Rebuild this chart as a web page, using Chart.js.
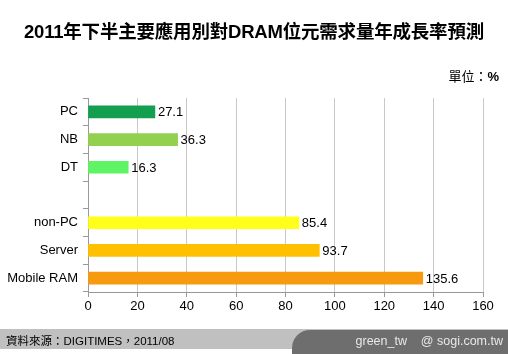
<!DOCTYPE html>
<html>
<head>
<meta charset="utf-8">
<script src="https://cdn.jsdelivr.net/npm/chart.js@4"></script>
<style>
    body { margin: 0; background: #fff; }
    #wrap { position: relative; width: 508px; height: 354px; overflow: hidden; font-family: "Liberation Sans", "Noto Sans CJK TC", sans-serif; }
    #title { position: absolute; left: 0; top: 17px; width: 508px; text-align: center; font-size: 18.5px; font-weight: bold; color: #000; letter-spacing: -0.2px; }
    #unit { position: absolute; right: 9px; top: 66px; font-size: 13px; color: #000; }
    #unit b { font-weight: bold; }
    #chart { position: absolute; left: 0; top: 0; }
    #footer { position: absolute; left: 0; top: 329px; width: 508px; height: 20px; background: #c0c0c0; }
    #footer .src { position: absolute; left: 6px; top: 3px; font-size: 11.5px; color: #000; }
    #footer .dark { position: absolute; left: 292px; top: 1px; width: 216px; height: 25px; background: #6e6e6e; border-top-left-radius: 18px; }
    #footer .who { position: absolute; right: 5px; top: 4px; font-size: 12.5px; color: #e8e8e8; white-space: pre; }
</style>
</head>
<body>
<div id="wrap">
    <canvas id="chart" width="508" height="354"></canvas>
    <div id="title">2011年下半主要應用別對DRAM位元需求量年成長率預測</div>
    <div id="unit">單位：<b>%</b></div>
    <div id="footer">
        <div class="src">資料來源：DIGITIMES，2011/08</div>
        <div class="dark"><div class="who">green_tw    @ sogi.com.tw</div></div>
    </div>
</div>
<script>
// categories, top to bottom (empty one is the gap between groups)
var categories = ['PC', 'NB', 'DT', '', 'non-PC', 'Server', 'Mobile RAM'];
var growth = [27.1, 36.3, 16.3, null, 85.4, 93.7, 135.6];
var barColors = ['#12a050', '#92d050', '#5ff466', 'rgba(0,0,0,0)', '#ffff1a', '#ffc000', '#f79a10'];
var xTicks = [0, 20, 40, 60, 80, 100, 120, 140, 160];

var font = "'Liberation Sans', 'Noto Sans CJK TC', sans-serif";

var valueLabels = {
    id: 'valueLabels',
    afterDatasetsDraw: function(chart) {
        var ctx = chart.ctx;
        var meta = chart.getDatasetMeta(0);
        ctx.save();
        ctx.font = '13px ' + font;
        ctx.fillStyle = '#000';
        ctx.textAlign = 'left';
        ctx.textBaseline = 'middle';
        meta.data.forEach(function(bar, i) {
            if (growth[i] === null) return;
            ctx.fillText(growth[i].toFixed(1), bar.x + 3, bar.y + 1);
        });
        ctx.restore();
    }
};

new Chart(document.getElementById('chart'), {
    type: 'bar',
    data: {
        labels: categories,
        datasets: [{
            data: growth,
            backgroundColor: barColors,
            borderWidth: 0,
            barThickness: 12
        }]
    },
    options: {
        indexAxis: 'y',
        responsive: false,
        animation: false,
        layout: { padding: { top: 98, right: 25, left: 0, bottom: 0 } },
        plugins: {
            legend: { display: false },
            tooltip: { enabled: false }
        },
        scales: {
            x: {
                min: 0,
                max: 160,
                afterBuildTicks: function(axis) {
                    axis.ticks = xTicks.map(function(v) { return { value: v }; });
                },
                afterFit: function(axis) { axis.height = 62; },
                grid: { color: '#c8c8c8', tickLength: 5, drawTicks: true, tickColor: '#999' },
                border: { color: '#999' },
                ticks: { color: '#000', font: { family: font, size: 13 }, padding: 2 }
            },
            y: {
                afterFit: function(axis) { axis.width = 88; },
                grid: { offset: true, drawOnChartArea: false, tickLength: 5, tickColor: '#999' },
                border: { color: '#999' },
                ticks: { color: '#000', font: { family: font, size: 13 }, padding: 5 }
            }
        }
    },
    plugins: [valueLabels]
});
</script>
</body>
</html>
